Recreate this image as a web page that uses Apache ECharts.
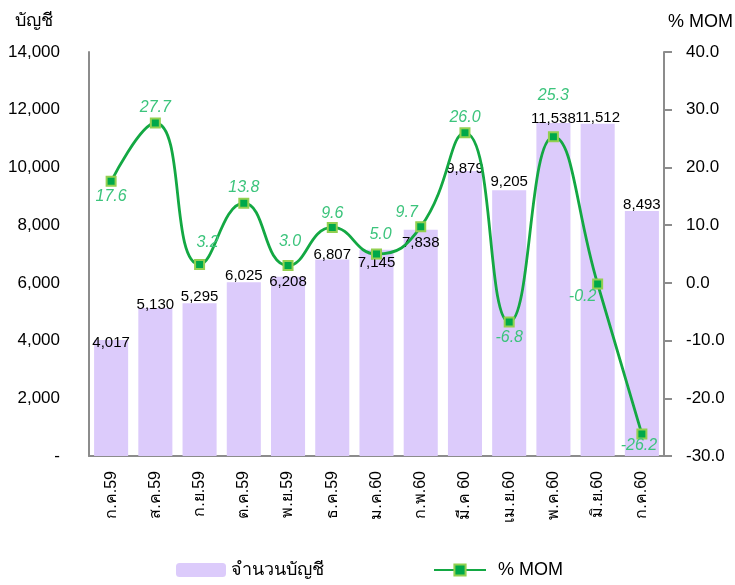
<!DOCTYPE html>
<html>
<head>
<meta charset="utf-8">
<script src="https://cdn.jsdelivr.net/npm/echarts@6/dist/echarts.min.js"></script>
<style>
  html, body { margin: 0; padding: 0; background: #fff; }
  #main { width: 735px; height: 585px; }
</style>
</head>
<body>
<div id="main"></div>
<script>
// เดือน
const months = ['ก.ค.59', 'ส.ค.59', 'ก.ย.59', 'ต.ค.59', 'พ.ย.59', 'ธ.ค.59', 'ม.ค.60',
  'ก.พ.60', 'มี.ค 60', 'เม.ย.60', 'พ.ค.60', 'มิ.ย.60', 'ก.ค.60'];
// จำนวนบัญชี
const accounts = [4017, 5130, 5295, 6025, 6208, 6807, 7145, 7838, 9879, 9205, 11538, 11512, 8493];
// % MOM
const mom = [17.6, 27.7, 3.2, 13.8, 3.0, 9.6, 5.0, 9.7, 26.0, -6.8, 25.3, -0.2, -26.2];

const FONT = 'Tahoma, "Liberation Sans", "Noto Sans", sans-serif';
const axisGray = '#8c8c8c';

// ตำแหน่งป้ายของบัญชี (เลื่อนลงตามแบบ)
const barLabelDy = [10, 4, 1, 1, 13, 3, 21, 21, 5, -1, 3, 2, 1];
// ตำแหน่งป้าย % MOM
const momLabelPos = ['bottom', 'top', 'top', 'top', 'top', 'top', 'top', 'top', 'top', 'bottom', 'top', 'bottom', 'bottom'];
const momLabelOff = [[0, 0], [0, 0], [8, -6], [0, 0], [2, -8], [0, 2], [4, -4], [-14, 1], [0, 0], [0, 0], [0, -26], [-15, -3], [-3, -4]];

const chart = echarts.init(document.getElementById('main'));

chart.setOption({
  animation: false,
  textStyle: { fontFamily: FONT },
  grid: { left: 89, right: 71, top: 52, bottom: 129, outerBoundsMode: 'none', containLabel: false },
  legend: [
    {
      bottom: 1,
      left: 171,
      itemWidth: 50,
      itemHeight: 14,
      textStyle: { fontSize: 18, color: '#000', fontFamily: FONT },
      data: ['จำนวนบัญชี'],
    },
    {
      bottom: 1,
      left: 428,
      itemWidth: 52,
      itemHeight: 14,
      textStyle: { fontSize: 18, color: '#000', fontFamily: FONT, padding: [0, 0, 0, 7] },
      data: ['% MOM'],
    },
  ],
  xAxis: {
    type: 'category',
    data: months,
    axisLine: { lineStyle: { color: axisGray, width: 2 } },
    axisTick: { show: false },
    axisLabel: {
      rotate: 90,
      interval: 0,
      margin: 15,
      color: '#000',
      fontSize: 16,
      fontFamily: FONT,
    },
  },
  yAxis: [
    {
      type: 'value',
      name: 'บัญชี',
      nameGap: 22,
      nameTextStyle: { color: '#000', fontSize: 18, align: 'right', padding: [0, 36, 0, 0] },
      min: 0,
      max: 14000,
      interval: 2000,
      splitLine: { show: false },
      axisLine: { show: true, lineStyle: { color: axisGray, width: 2 } },
      axisTick: { show: false },
      axisLabel: {
        margin: 29,
        color: '#000',
        fontSize: 17,
        formatter: v => (v === 0 ? '-' : v.toLocaleString('en-US')),
      },
    },
    {
      type: 'value',
      name: '% MOM',
      nameGap: 21,
      nameTextStyle: { color: '#000', fontSize: 18, align: 'left', padding: [0, 0, 0, 4] },
      min: -30,
      max: 40,
      interval: 10,
      splitLine: { show: false },
      axisLine: { show: true, lineStyle: { color: axisGray, width: 2 } },
      axisTick: { show: true, length: 8, lineStyle: { color: axisGray, width: 2 } },
      axisLabel: {
        margin: 22,
        color: '#000',
        fontSize: 17,
        formatter: v => v.toFixed(1),
      },
    },
  ],
  series: [
    {
      name: 'จำนวนบัญชี',
      type: 'bar',
      yAxisIndex: 0,
      barWidth: '77%',
      itemStyle: { color: '#dccbfb' },
      label: {
        show: true,
        position: 'top',
        distance: 0,
        color: '#000',
        fontSize: 15,
        formatter: p => p.value.toLocaleString('en-US'),
      },
      data: accounts.map((v, i) => ({ value: v, label: { offset: [0, barLabelDy[i]] } })),
    },
    {
      name: '% MOM',
      type: 'line',
      yAxisIndex: 1,
      smooth: 0.5,
      symbol: 'rect',
      symbolSize: 9,
      lineStyle: { color: '#13a843', width: 2.8 },
      itemStyle: { color: '#00a84a', borderColor: '#92d050', borderWidth: 2 },
      label: {
        show: true,
        color: '#3cc47c',
        fontStyle: 'italic',
        fontSize: 16,
        distance: 2,
        formatter: p => p.value.toFixed(1),
      },
      data: mom.map((v, i) => ({
        value: v,
        label: { position: momLabelPos[i], offset: momLabelOff[i] },
      })),
      z: 5,
    },
  ],
});
</script>
</body>
</html>
